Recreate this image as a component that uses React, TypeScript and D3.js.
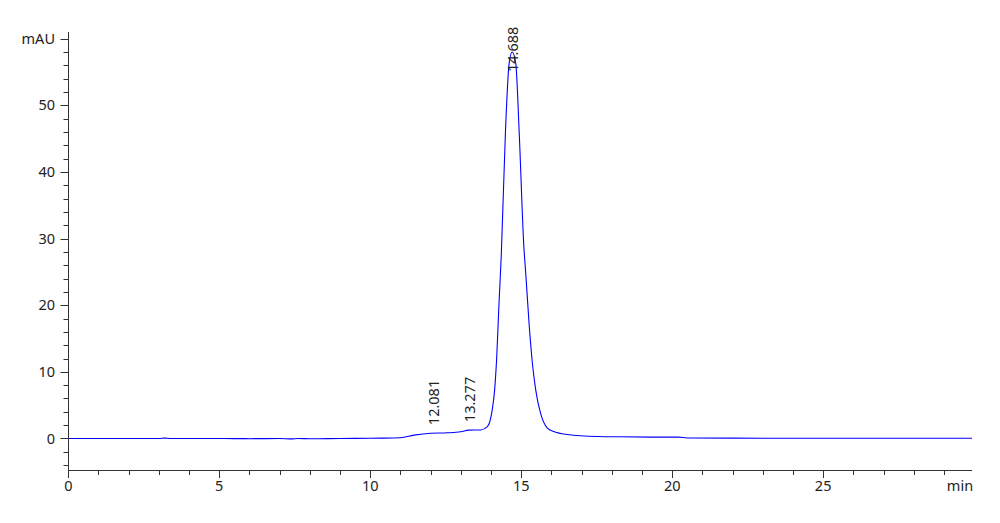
import React from "react";
import * as d3 from "d3";

const times: number[] = [0, 1, 2, 3, 3.2, 3.4, 4, 5, 6, 7, 7.4, 7.6, 8, 9, 10, 10.34, 11.0, 11.45, 12.0, 12.55, 13.0, 13.27, 13.655, 13.88, 14.04, 14.12, 14.19, 14.26, 14.34, 14.48, 14.6, 14.7, 14.82, 14.93, 15.09, 15.15, 15.26, 15.37, 15.48, 15.64, 15.86, 16.1, 16.53, 17.53, 18.3, 19.5, 20.2, 20.5, 22, 25, 28, 29.93];
const signal: number[] = [0, 0, 0, 0, 0.06, 0, 0, 0, -0.03, 0, -0.06, 0, -0.05, 0, 0.03, 0.05, 0.12, 0.5, 0.78, 0.85, 1.0, 1.25, 1.28, 1.77, 4.3, 7.3, 12.3, 19.8, 27.5, 46.3, 56.3, 58.0, 56.3, 46.3, 28.6, 24.8, 17.3, 11.3, 7.3, 3.8, 1.6, 1.0, 0.6, 0.3, 0.25, 0.2, 0.2, 0.08, 0.05, 0.03, 0.03, 0.03];

const peakTimes: number[] = [12.081, 13.277, 14.688];
const peakHeights: number[] = [0.8, 1.25, 58.0];

const xMajor: number[] = [0, 5, 10, 15, 20, 25];
const yMajor: number[] = [0, 10, 20, 30, 40, 50];

const W = 1000, H = 523;
const font = "'Noto Sans', sans-serif";

export default function App() {
  const x = d3.scaleLinear().domain([0, 29.93]).range([68.3, 972]);
  const y = d3.scaleLinear().domain([-4.73, 61]).range([470, 32]);
  const pts = times.map((t, i) => [t, signal[i]] as [number, number]);
  const line = d3.line<[number, number]>().x(d => x(d[0])).y(d => y(d[1])).curve(d3.curveMonotoneX);
  const xMinor = d3.range(0, 30, 1);
  const yMinor = d3.range(-4, 61, 2);
  const axisColor = "#333";
  return (
    <svg width={W} height={H} style={{ position: "absolute", left: 0, top: 0, background: "#fff" }}>
      <path d={line(pts) || ""} fill="none" stroke="#0000ff" strokeWidth={1.1} />
      {/* y axis */}
      <line x1={68.5} x2={68.5} y1={32} y2={470} stroke={axisColor} strokeWidth={1} />
      {yMinor.map(v => (
        <line key={"ym" + v} x1={v % 10 === 0 ? 60.5 : 63.5} x2={68.5} y1={Math.round(y(v)) + 0.5} y2={Math.round(y(v)) + 0.5} stroke={axisColor} />
      ))}
      {yMajor.map(v => (
        <text key={"yl" + v} x={55} y={y(v)} dy="0.35em" textAnchor="end" fontFamily={font} fontSize={14.5} fill="#222">{v}</text>
      ))}
      <text x={55} y={y(60)} dy="0.35em" textAnchor="end" fontFamily={font} fontSize={14.5} fill="#222">mAU</text>
      {/* x axis */}
      <line x1={68} x2={972} y1={470.5} y2={470.5} stroke={axisColor} strokeWidth={1} />
      {xMinor.map(v => (
        <line key={"xm" + v} x1={Math.round(x(v)) + 0.5} x2={Math.round(x(v)) + 0.5} y1={470.5} y2={v % 5 === 0 ? 478 : 475} stroke={axisColor} />
      ))}
      {xMajor.map(v => (
        <text key={"xl" + v} x={x(v)} y={486} dy="0.35em" textAnchor="middle" fontFamily={font} fontSize={14.5} fill="#222">{v}</text>
      ))}
      <text x={960} y={486} dy="0.35em" textAnchor="middle" fontFamily={font} fontSize={14.5} fill="#222">min</text>
      {/* peak labels */}
      {peakTimes.map((t, i) => {
        const px = x(t);
        const py = y(peakHeights[i]) + (i === 2 ? 20 : -8);
        return (
          <text key={"pk" + i} transform={`translate(${px + 6},${py}) rotate(-90)`} fontFamily={font} fontSize={14.5} fill="#222">{t.toFixed(3)}</text>
        );
      })}
    </svg>
  );
}
